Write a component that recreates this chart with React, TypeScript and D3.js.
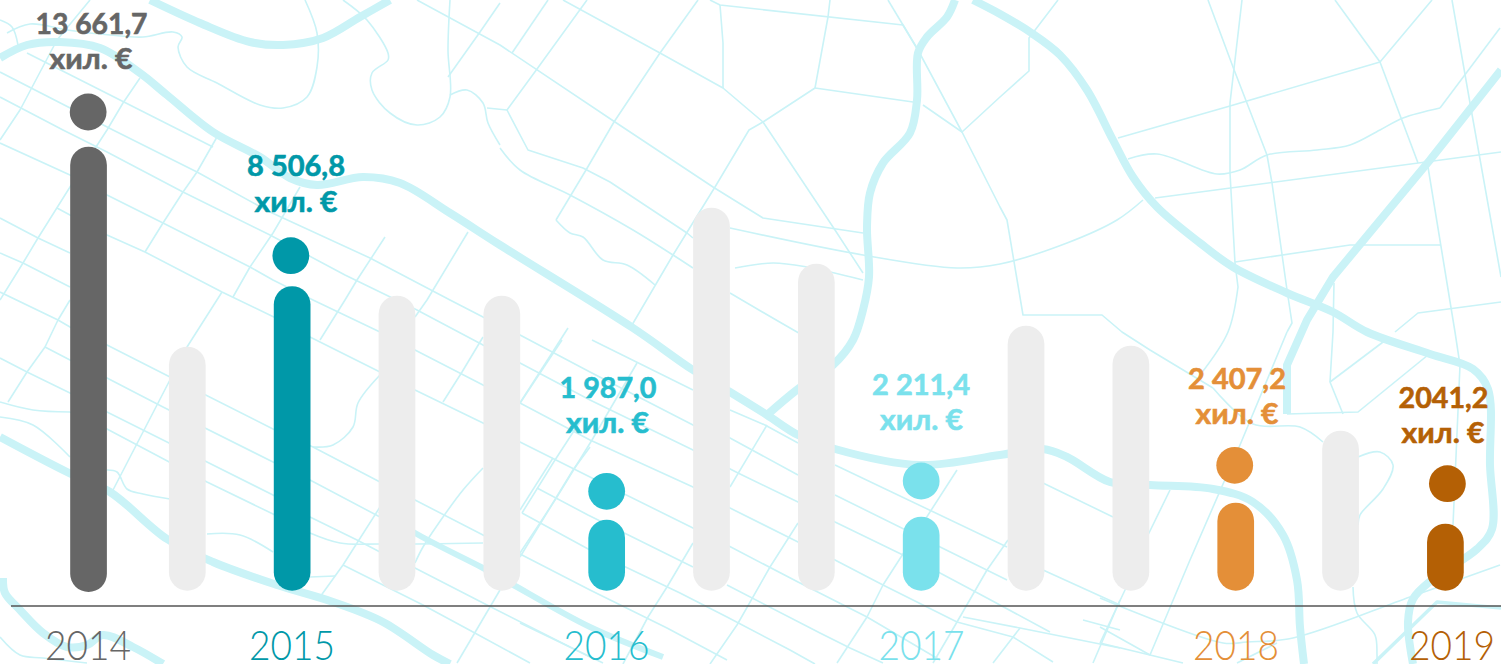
import React from "react";
import * as d3 from "d3";

const W = 1501, H = 664;

// ---- data ----
const slots = [0.058, 1, 2, 3, 4, 5, 6, 7, 8, 9, 10, 11, 12, 13];
const barLevels = [444, 244, 304.5, 295, 295, 71, 383, 327, 74, 265, 245, 88, 160, 67];
const yearOfBar = ["2014", "", "2015", "", "", "2016", "", "", "2017", "", "", "2018", "", "2019"];
const valueLabels = ["13 661,7", "", "8 506,8", "", "", "1 987,0", "", "", "2 211,4", "", "", "2 407,2", "", "2041,2"];
const unitLabel = "хил. €";
const barColors = ["#666666", "#EDEDED", "#0098A8", "#EDEDED", "#EDEDED", "#26BDCE", "#EDEDED", "#EDEDED", "#7AE1EC", "#EDEDED", "#EDEDED", "#E48F38", "#EDEDED", "#B46005"];

// ---- per-label layout ----
const dotDx: Record<string, number> = { "2014": -0.4, "2015": -1.3, "2016": 0, "2017": 0, "2018": -1, "2019": 2 };
const dotCy: Record<string, number> = { "2014": 112, "2015": 255.7, "2016": 491.3, "2017": 481, "2018": 465.3, "2019": 483.7 };
const valueCx: Record<string, number> = { "2014": 91.5, "2015": 296, "2016": 608, "2017": 921, "2018": 1237, "2019": 1443.5 };
const valueBase: Record<string, number> = { "2014": 34, "2015": 176, "2016": 398, "2017": 395, "2018": 389, "2019": 408 };
const valueLen: Record<string, number> = { "2014": 112, "2015": 98, "2016": 97, "2017": 98, "2018": 98, "2019": 90 };
const unitCx: Record<string, number> = { "2014": 91, "2015": 296, "2016": 607.5, "2017": 921.5, "2018": 1237, "2019": 1443 };
const unitBase: Record<string, number> = { "2014": 69, "2015": 212, "2016": 433, "2017": 430, "2018": 424, "2019": 443 };
const yearCx: Record<string, number> = { "2014": 88, "2015": 292, "2016": 606.5, "2017": 921.5, "2018": 1236, "2019": 1452 };

// ---- background street map ----
const thickRoads: [number, number][][] = [
  [[0,58],[27,45],[60,42],[100,48],[140,73],[167,95],[213,132],[260,157],[290,178],[317,185],[363,177],[400,183],[450,213],[500,245],[633,328],[693,370],[730,392],[767,415],[798,435],[835,449],[920,465],[1000,455],[1043,449],[1067,457],[1110,482],[1150,485],[1213,489],[1253,502],[1283,535],[1297,580],[1300,627],[1304,664]],
  [[150,0],[200,23],[250,42],[283,45],[323,38],[360,17],[390,0]],
  [[955,0],[947,17],[927,37],[918,53],[917,100],[910,133],[883,163],[870,193],[867,227],[869,277],[863,310],[853,340],[833,365],[798,389],[767,415]],
  [[973,0],[1000,14],[1030,32],[1060,55],[1087,90],[1113,140],[1133,177],[1157,207],[1200,243],[1233,267],[1287,293],[1333,312],[1367,332],[1430,354],[1473,369],[1488,389],[1490,465],[1492,529],[1477,549],[1433,579],[1413,599],[1408,622],[1413,664]],
  [[0,437],[67,472],[110,492],[167,539],[213,562],[277,585],[333,602],[383,622],[433,655],[450,664]],
  [[3,578],[5,593],[20,610],[43,633],[67,647],[87,645],[103,635],[133,647],[163,664]],
];
const diagonalRoads: [number, number][][] = [
  [[1501,70],[1430,160],[1333,277],[1307,320],[1287,365],[1287,414]],
];
const mediumThickRoads: [number, number][][] = [
  [[380,510],[415,533],[483,568],[510,583],[590,627],[663,657]],
];
const curvedRoads: [number, number][][] = [
  [[0,20],[12,27],[18,45]],
  [[7,33],[30,24],[67,30],[110,35],[143,37],[173,32],[182,37],[178,47],[187,67],[217,83],[260,105],[283,108],[307,97],[317,67],[317,33],[305,0]],
  [[343,0],[367,20],[388,53],[388,60],[372,73],[372,90],[390,113],[417,125],[440,117],[450,97],[448,50],[450,0]],
  [[450,95],[467,90],[483,103],[488,123],[500,145]],
  [[500,148],[520,170],[570,195],[633,230],[673,255],[693,268]],
  [[735,268],[773,263],[807,267],[863,280]],
  [[730,293],[797,332],[830,350]],
  [[556,220],[570,233],[583,237],[603,260],[627,265],[655,285]],
  [[730,228],[863,255],[957,268],[1000,264],[1067,243],[1117,220],[1143,200]],
  [[1128,159],[1157,154],[1217,174],[1240,170],[1267,155],[1317,150],[1350,145],[1380,130],[1403,118],[1440,108]],
  [[1238,287],[1228,332],[1200,375]],
  [[1358,457],[1380,452],[1393,465],[1383,489],[1360,515],[1358,525]],
  [[1353,587],[1357,613],[1375,635],[1377,655],[1377,664]],
  [[1213,388],[1253,424],[1300,427],[1323,442]],
  [[1500,565],[1410,597],[1293,638],[1247,642],[1223,643],[1100,598]],
  [[313,447],[333,445],[353,427],[358,403],[380,375]],
  [[0,402],[33,410],[70,412]],
  [[0,417],[33,425],[70,457]],
  [[107,470],[117,472],[127,489],[143,494],[170,499]],
  [[207,534],[240,535],[273,552]],
  [[310,577],[335,576]],
  [[415,563],[423,547],[443,517],[463,490],[483,468]],
  [[310,533],[340,543],[380,544],[483,543]],
  [[0,637],[20,655],[43,658],[87,663]],
];
const streets: [number, number][][] = [
  // long north-west to south-east streets, left part
  [[27,53],[213,147]],
  [[0,72],[113,130],[197,172],[270,212],[370,258],[450,300],[483,317],[520,335],[590,372],[693,425],[730,438],[798,475]],
  [[0,97],[63,130],[107,152],[183,192],[270,235],[345,275],[417,310],[483,345],[520,363],[590,400],[693,450],[738,473],[798,502],[835,522],[903,555],[940,573],[987,598],[1050,632]],
  [[0,143],[70,175],[107,195],[163,223],[250,267],[273,280],[313,300],[380,332],[415,350],[483,385],[520,403],[590,440],[693,487],[730,508],[798,542],[835,560],[883,585],[957,622]],
  [[57,208],[107,235],[145,252],[222,292],[280,320],[310,337],[380,372],[415,390],[483,423],[520,442],[590,477],[693,528],[727,545],[798,582],[867,617],[940,660]],
  [[0,218],[38,238],[70,253]],
  [[0,253],[23,263],[70,287]],
  [[0,292],[58,320],[70,327],[107,345],[170,377],[273,429],[313,447],[380,482],[415,500],[483,535],[522,555],[590,590],[667,628],[727,660]],
  [[522,513],[590,550],[680,593],[727,617],[790,650],[815,664]],
  [[45,347],[70,360],[107,378],[163,407],[273,462],[310,480],[380,517]],
  [[0,358],[27,372],[70,393],[107,412],[207,462],[273,495],[310,517],[357,540],[380,552],[415,568],[487,605],[570,647],[590,657]],
  [[70,412],[107,429],[207,482],[273,514],[310,533]],
  [[343,565],[423,605],[473,632],[530,663]],
  [[537,488],[588,515],[693,567]],
  [[520,623],[603,663]],
  [[592,340],[693,390]],
  [[730,410],[765,425],[798,443]],
  [[727,585],[820,633],[850,648],[883,663]],
  [[835,465],[1007,547]],
  [[835,495],[930,542],[1007,580]],
  [[963,617],[1020,628],[1120,648]],
  [[957,622],[1013,637],[1053,662]],
  [[1043,483],[1113,517]],
  [[1043,570],[1120,605]],
  [[1083,620],[1120,630]],
  // north-east to south-west streets, left part
  [[90,0],[57,40],[20,110],[0,140]],
  [[140,78],[123,103],[107,130],[70,187],[38,238],[23,263],[0,300]],
  [[217,137],[197,172],[183,192],[163,223],[145,252]],
  [[300,187],[273,233],[250,267],[233,297]],
  [[222,292],[187,347],[113,490]],
  [[70,300],[58,320],[45,347],[27,372],[8,402]],
  [[385,237],[357,280],[345,300],[320,340]],
  [[468,232],[427,300],[415,317]],
  [[483,337],[462,372],[443,402]],
  [[568,328],[520,403]],
  [[583,417],[555,460],[522,513]],
  [[590,447],[573,470],[520,557]],
  [[380,507],[343,565],[320,597]],
  [[500,590],[457,663]],
  [[562,340],[540,373],[520,403]],
  [[637,363],[592,440],[555,500],[540,523],[520,553]],
  [[553,458],[520,510]],
  [[693,543],[667,587],[648,617],[623,664]],
  [[767,425],[730,487]],
  [[798,523],[770,567],[737,625],[710,664]],
  [[957,470],[883,585],[867,617],[837,663]],
  [[1008,540],[987,570],[957,622],[933,663]],
  [[1020,628],[993,663]],
  [[1120,600],[1093,663]],
  // upper middle
  [[448,77],[480,32],[500,3]],
  [[417,0],[500,45],[615,122],[713,187],[763,218],[863,233]],
  [[563,0],[660,53],[723,88],[763,122],[835,230],[863,273]],
  [[548,0],[512,53]],
  [[587,0],[537,69],[507,110],[528,150],[583,168],[610,182],[687,233],[693,238]],
  [[487,108],[507,110]],
  [[698,0],[660,53],[614,122],[586,170],[556,220]],
  [[710,0],[720,5],[903,25],[918,50],[962,132],[1000,207],[1007,220],[1023,315],[1102,315],[1122,332],[1150,350],[1213,388]],
  [[720,5],[723,43],[723,88]],
  [[830,0],[828,17],[815,88],[763,122],[749,130],[715,187],[673,255],[632,325]],
  [[815,88],[913,102]],
  [[888,0],[918,50]],
  [[923,105],[962,132],[1000,97],[1029,71],[1029,38],[1058,0]],
  // right part
  [[1118,138],[1230,106],[1380,62],[1432,0]],
  [[1335,0],[1380,62],[1418,163]],
  [[1208,0],[1233,67],[1267,155],[1272,183],[1287,290],[1292,323],[1287,332]],
  [[1242,0],[1230,103],[1230,173],[1235,263],[1238,287]],
  [[1440,108],[1500,28]],
  [[1155,198],[1501,152]],
  [[1235,262],[1350,245],[1440,245]],
  [[1428,167],[1455,332],[1460,365],[1453,525]],
  [[1452,0],[1470,103],[1501,277]],
  [[1334,283],[1333,332],[1330,382],[1343,414]],
  [[1330,382],[1387,339]],
  [[1395,332],[1418,313],[1501,302]],
  [[1287,414],[1358,412],[1428,355]],
  [[1287,332],[1240,445],[1190,560],[1150,655]],
  [[1170,490],[1148,535],[1125,590],[1100,643]],
  [[1100,627],[1150,655],[1183,663]],
  [[1100,643],[1150,655]],
  [[1277,643],[1237,663]],
];
const mediumRoads: [number, number][][] = [
  [[1501,608],[1437,602],[1373,664]],
];

export default function App() {
  const baseY = 590.7;
  const barW = 36.7;
  const x = d3.scaleLinear().domain([1, 13]).range([187.3, 1445.4]);
  const y = d3.scaleLinear().domain([0, 445]).range([baseY, baseY - 445]);
  const curve = d3.line().curve(d3.curveCatmullRom.alpha(0.5));
  const straight = d3.line();
  const valueFont = '"Lato", "Noto Sans", sans-serif';

  const bars = barLevels.map((level, i) => ({
    level,
    slot: slots[i],
    year: yearOfBar[i],
    value: valueLabels[i],
    color: barColors[i],
  }));

  return (
    <svg
      width={W}
      height={H}
      viewBox={`0 0 ${W} ${H}`}
      style={{ position: "absolute", left: 0, top: 0, display: "block", background: "#fff" }}
    >
      <g fill="none" stroke="#CAF3F7" strokeLinejoin="round">
        <g strokeWidth={1.6}>
          {streets.map((s, i) => <path key={i} d={straight(s) ?? ""} />)}
          {curvedRoads.map((s, i) => <path key={i} d={curve(s) ?? ""} />)}
        </g>
        <g strokeWidth={3.5}>
          {mediumRoads.map((s, i) => <path key={i} d={straight(s) ?? ""} />)}
        </g>
        <g strokeWidth={6}>
          {mediumThickRoads.map((s, i) => <path key={i} d={curve(s) ?? ""} />)}
        </g>
        <g strokeWidth={8}>
          {thickRoads.map((s, i) => <path key={i} d={curve(s) ?? ""} />)}
          {diagonalRoads.map((s, i) => <path key={i} d={straight(s) ?? ""} />)}
        </g>
      </g>

      {bars.map((b, i) => (
        <rect
          key={i}
          x={x(b.slot) - barW / 2}
          y={y(b.level)}
          width={barW}
          height={y(0) - y(b.level) + (i === 0 ? 1.3 : 0)}
          rx={barW / 2}
          fill={b.color}
        />
      ))}

      <line x1={11} x2={W} y1={606} y2={606} stroke="#555" strokeWidth={1.6} />

      {bars.filter((b) => b.year).map((b) => (
        <g key={b.year} fill={b.color} textAnchor="middle">
          <circle cx={x(b.slot) + dotDx[b.year]} cy={dotCy[b.year]} r={18.4} />
          <text
            x={valueCx[b.year]}
            y={valueBase[b.year]}
            fontFamily={valueFont}
            fontWeight={700}
            fontSize={29}
            stroke={b.color}
            strokeWidth={0.6}
            textLength={valueLen[b.year]}
            lengthAdjust="spacingAndGlyphs"
          >
            {b.value}
          </text>
          <text
            x={unitCx[b.year]}
            y={unitBase[b.year]}
            fontFamily={valueFont}
            fontWeight={700}
            fontSize={29}
            stroke={b.color}
            strokeWidth={0.6}
            textLength={83}
            lengthAdjust="spacingAndGlyphs"
          >
            {unitLabel}
          </text>
          <text
            x={yearCx[b.year]}
            y={660}
            fontFamily={valueFont}
            fontWeight={300}
            fontSize={41}
            textLength={86}
            lengthAdjust="spacingAndGlyphs"
          >
            {b.year}
          </text>
        </g>
      ))}
    </svg>
  );
}
